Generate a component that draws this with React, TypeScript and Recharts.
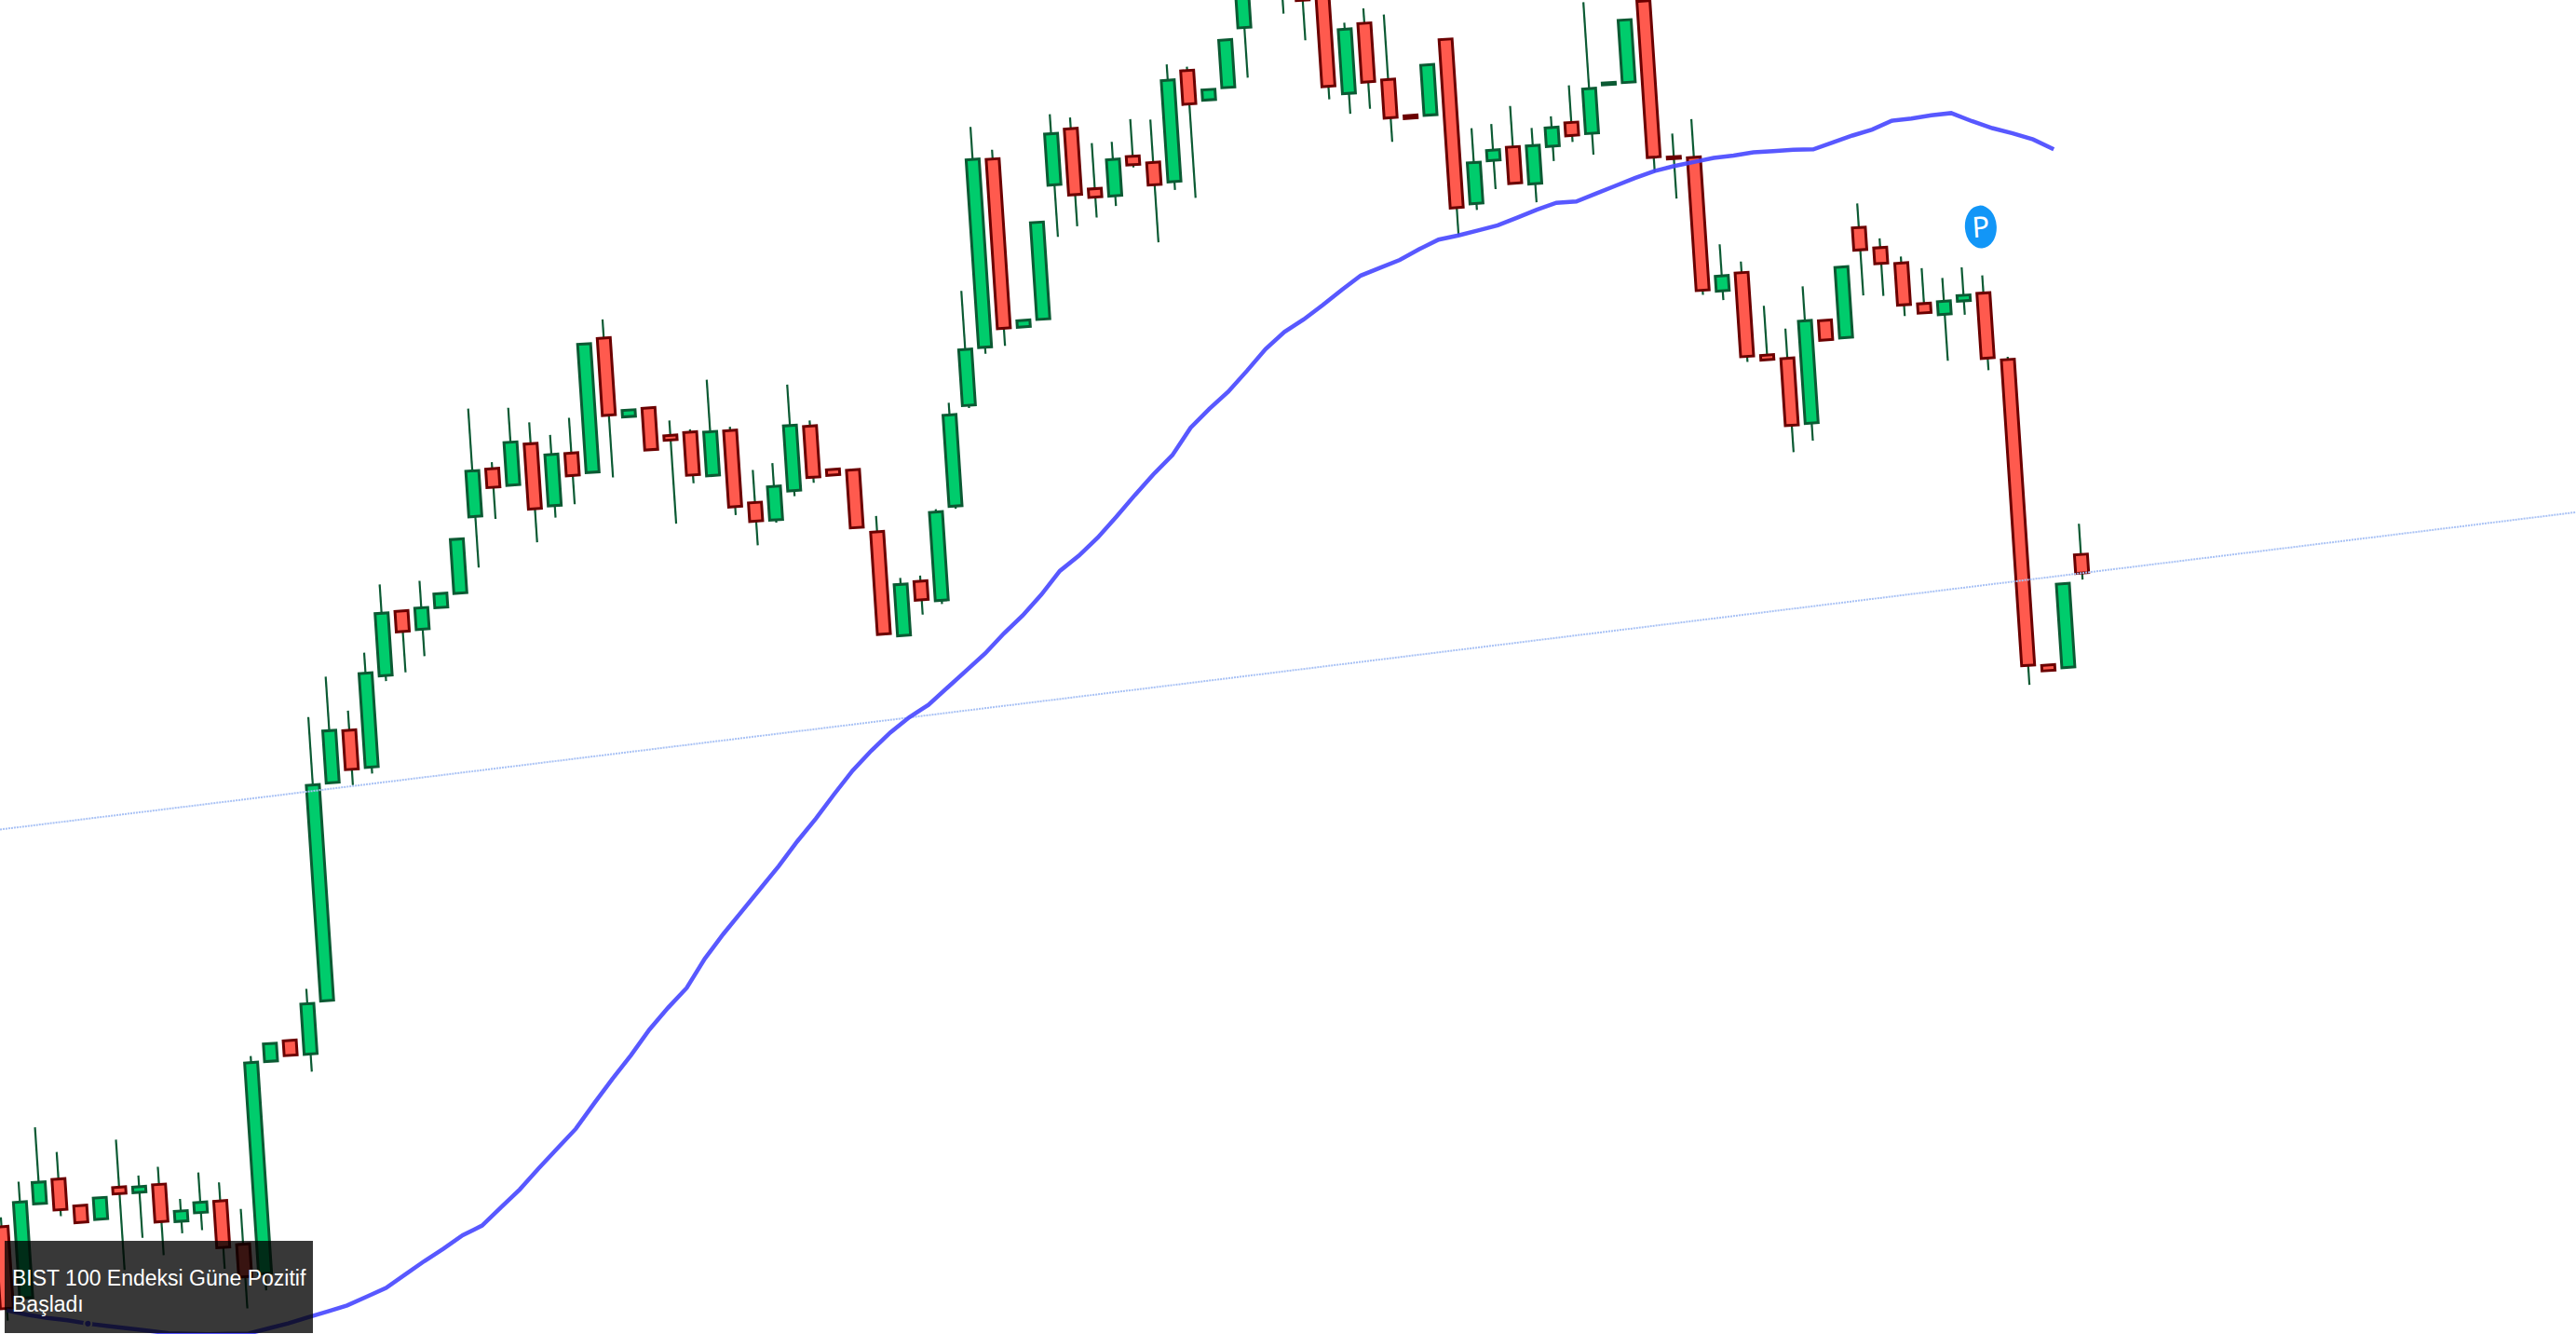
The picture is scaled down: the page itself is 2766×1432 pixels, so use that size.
import { Bar, ComposedChart, Line, ReferenceDot, ReferenceLine, XAxis, YAxis } from 'recharts';

const opens = [
  286, 208, 308, 333, 303, 287, 320, 313, 320, 279,
  287, 298, 250, 217, 444, 465, 449, 505, 738, 793,
  752, 849, 917, 896, 918, 932, 1013, 1063, 1044, 1087,
  1019, 1074, 1052, 1195, 1109, 1117, 1086, 1088, 1040, 1087,
  1008, 988, 1018, 1086, 1038, 1036, 968, 855, 912, 890,
  990, 1097, 1158, 1359, 1177, 1184, 1327, 1386, 1320, 1311,
  1352, 1344, 1322, 1440, 1407, 1419, 1482, 1560, 1515, 1540,
  1530, 1404, 1478, 1416, 1376, 1375, 1455, 1277, 1322, 1335,
  1294, 1333, 1357, 1344, 1395, 1396, 1482, 1313, 1311, 1166,
  1184, 1094, 1089, 1018, 1127, 1107, 1224, 1201, 1183, 1138,
  1125, 1138, 1145, 1072, 742, 738, 858,
];
const closes = [
  198, 311, 331, 300, 285, 310, 313, 319, 280, 290,
  298, 248, 215, 444, 463, 449, 503, 737, 794, 751,
  853, 916, 895, 919, 933, 990, 1062, 1043, 1090, 1017,
  1074, 1050, 1190, 1112, 1116, 1072, 1081, 1042, 1087, 1005,
  988, 1024, 1088, 1031, 1032, 974, 858, 910, 892, 985,
  1088, 1157, 1360, 1177, 1184, 1288, 1382, 1315, 1311, 1350,
  1343, 1320, 1431, 1404, 1418, 1470, 1530, 1540, 1545, 1507,
  1413, 1473, 1415, 1375, 1373, 1429, 1274, 1321, 1333, 1296,
  1335, 1353, 1343, 1392, 1397, 1463, 1314, 1311, 1168, 1182,
  1094, 1089, 1017, 1128, 1106, 1183, 1200, 1184, 1138, 1128,
  1139, 1144, 1075, 743, 736, 828, 838,
];
const highs = [
  296, 333, 390, 362, 303, 310, 371, 331, 339, 303,
  330, 318, 288, 451, 463, 465, 519, 810, 852, 814,
  875, 947, 917, 948, 933, 990, 1129, 1070, 1127, 1110,
  1095, 1112, 1190, 1215, 1116, 1117, 1102, 1091, 1143, 1091,
  1043, 1049, 1132, 1092, 1038, 1036, 985, 917, 918, 988,
  1101, 1220, 1395, 1369, 1184, 1288, 1403, 1398, 1369, 1369,
  1392, 1390, 1448, 1444, 1418, 1470, 1548, 1570, 1560, 1550,
  1545, 1480, 1494, 1486, 1376, 1429, 1455, 1358, 1361, 1379,
  1354, 1365, 1397, 1485, 1397, 1463, 1482, 1338, 1352, 1216,
  1196, 1147, 1121, 1165, 1127, 1183, 1250, 1211, 1190, 1176,
  1164, 1174, 1164, 1075, 742, 828, 891,
];
const lows = [
  185, 208, 308, 293, 285, 287, 231, 264, 244, 266,
  268, 225, 181, 199, 444, 449, 430, 505, 738, 734,
  745, 843, 851, 867, 918, 932, 958, 1009, 1044, 981,
  1006, 1019, 1052, 1045, 1109, 1072, 991, 1033, 1040, 996,
  962, 985, 1012, 1025, 1032, 974, 858, 855, 876, 886,
  987, 1094, 1151, 1158, 1177, 1184, 1271, 1281, 1289, 1300,
  1340, 1258, 1313, 1303, 1407, 1419, 1428, 1525, 1494, 1464,
  1399, 1382, 1386, 1349, 1373, 1375, 1244, 1270, 1291, 1296,
  1274, 1317, 1336, 1321, 1395, 1396, 1298, 1268, 1163, 1156,
  1088, 1089, 988, 999, 1106, 1107, 1151, 1149, 1126, 1128,
  1075, 1123, 1062, 722, 736, 738, 831,
];
const movingAverage = [
  196, 190, 185, 181, 176, 172, 168, 164, 160, 158,
  156, 155, 154, 158, 162, 167, 172, 177, 185, 193,
  206, 219, 231, 244, 253, 271, 289, 310, 330, 350,
  376, 401, 425, 451, 473, 493, 523, 548, 571, 594,
  617, 642, 665, 690, 714, 734, 752, 767, 779, 796,
  813, 830, 850, 868, 889, 913, 928, 946, 967, 989,
  1010, 1029, 1057, 1076, 1093, 1114, 1136, 1153, 1165, 1179,
  1194, 1208, 1215, 1222, 1232, 1241, 1244, 1248, 1252, 1259,
  1266, 1272, 1272, 1279, 1286, 1293, 1299, 1303, 1306, 1309,
  1310, 1312, 1312, 1312, 1311, 1317, 1323, 1328, 1336, 1337,
  1339, 1340, 1330, 1321, 1314, 1306, 1294,
];
const trendStart = { index: 0, value: 710 };
const trendEnd = { index: 135, value: 873 };
const marker = { index: 102.1, value: 1216, label: 'P' };
const headline = ['BIST 100 Endeksi Güne Pozitif', 'Başladı'];

const data = opens.map((open, i) => ({
  index: i,
  open,
  close: closes[i],
  high: highs[i],
  low: lows[i],
  ma: movingAverage[i],
}));

/** Wick plus body, worked out from the [low, high] rectangle the Bar hands over. */
function Candle(props: any) {
  const { x, y, width, height, payload } = props;
  const { open, close, high, low } = payload;
  const perUnit = height / (high - low);
  const toY = (v: number) => y + (high - v) * perUnit;
  const up = close >= open;
  const top = toY(Math.max(open, close));
  const bottom = toY(Math.min(open, close));
  const mid = x + width / 2;
  return (
    <g>
      <line x1={mid} x2={mid} y1={y} y2={y + height} stroke="#0b5a33" strokeWidth={2.2} />
      <rect
        x={x + 1}
        y={top}
        width={width - 2}
        height={Math.max(bottom - top, 1)}
        fill={up ? '#00cc6c' : '#ff5a4e'}
        stroke={up ? '#0b5a33' : '#6b0000'}
        strokeWidth={3}
      />
    </g>
  );
}

function Marker(props: any) {
  const { cx, cy } = props;
  return (
    <g>
      <ellipse cx={cx} cy={cy} rx={17} ry={23} fill="#1296f7" />
      <text x={cx} y={cy + 11} textAnchor="middle" fontSize={31} fontFamily="Noto Sans" fill="#fff">
        {marker.label}
      </text>
    </g>
  );
}

export default function App() {
  return (
    <div style={{ position: 'absolute', left: 0, top: 0, width: 2766, height: 1432, overflow: 'hidden', background: '#fff' }}>
      <div
        style={{
          position: 'absolute',
          left: -200,
          top: -200,
          width: 3200,
          height: 2000,
          transform: 'rotate(-3.8deg)',
          transformOrigin: '200px 200px',
        }}
      >
        <ComposedChart width={3200} height={2000} data={data} margin={{ top: 0, right: 0, bottom: 0, left: 0 }}>
          <XAxis type="number" dataKey="index" domain={[-5.313, 143.74]} hide allowDataOverflow />
          <YAxis type="number" domain={[-200, 1800]} hide allowDataOverflow />
          <ReferenceLine
            segment={[
              { x: trendStart.index, y: trendStart.value },
              { x: trendEnd.index, y: trendEnd.value },
            ]}
            stroke="#a9c2f5"
            strokeWidth={2}
            strokeDasharray="2 1"
            ifOverflow="visible"
          />
          <Bar
            dataKey={(d: any) => [d.low, d.high]}
            barSize={16}
            shape={<Candle />}
            isAnimationActive={false}
          />
          <Line
            type="linear"
            dataKey="ma"
            stroke="#4a4aff"
            strokeOpacity={0.92}
            strokeWidth={4.5}
            dot={false}
            isAnimationActive={false}
          />
          <ReferenceDot x={marker.index} y={marker.value} shape={<Marker />} ifOverflow="visible" />
        </ComposedChart>
      </div>
      <div
        style={{
          position: 'absolute',
          left: 5,
          top: 1332,
          width: 323,
          height: 99,
          paddingLeft: 8,
          background: 'rgba(0,0,0,0.78)',
          color: '#fff',
          fontFamily: 'Liberation Sans',
          fontSize: 23,
          lineHeight: '28px',
        }}
      >
        <div style={{ height: 26 }} />
        {headline.map((line) => (
          <div key={line} style={{ whiteSpace: 'nowrap' }}>
            {line}
          </div>
        ))}
      </div>
    </div>
  );
}
